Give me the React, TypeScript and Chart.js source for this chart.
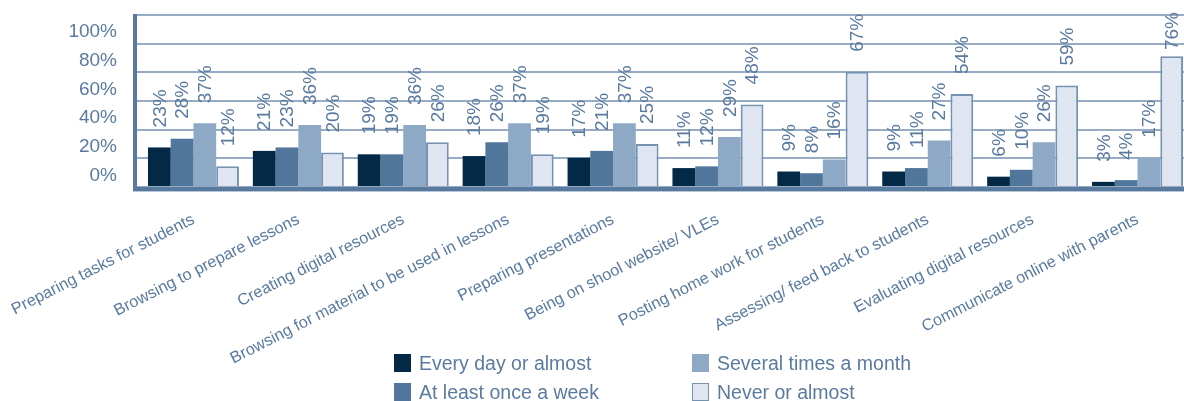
import React, { useEffect, useRef } from "react";
import { Chart, registerables } from "chart.js";

Chart.register(...registerables);

const CATEGORIES = [
  "Preparing tasks for students",
  "Browsing to prepare lessons",
  "Creating digital resources",
  "Browsing for material to be used in lessons",
  "Preparing presentations",
  "Being on shool website/ VLEs",
  "Posting home work for students",
  "Assessing/ feed back to students",
  "Evaluating digital resources",
  "Communicate online with parents",
];

const SERIES_NAMES = [
  "Every day or almost",
  "At least once a week",
  "Several times a month",
  "Never or almost",
];

const EVERY_DAY = [23, 21, 19, 18, 17, 11, 9, 9, 6, 3];
const ONCE_A_WEEK = [28, 23, 19, 26, 21, 12, 8, 11, 10, 4];
const SEVERAL_A_MONTH = [37, 36, 36, 37, 37, 29, 16, 27, 26, 17];
const NEVER = [12, 20, 26, 19, 25, 48, 67, 54, 59, 76];

const Y_TICK_LABELS = ["0%", "20%", "40%", "60%", "80%", "100%"];
const GRID_DIVISIONS = 6;

const SERIES_FILLS = ["#032946", "#50769b", "#8ea9c6", "#dfe6f2"];
const SERIES_BORDERS = ["#032946", "#50769b", "#8ea9c6", "#7592b1"];
const SERIES_BORDER_WIDTHS = [0, 0, 0, 2];

const TEXT_COLOR = "#5a7b9f";
const AXIS_COLOR = "#587a9e";
const GRID_COLOR = "#97abc4";
const FONT_FAMILY = "'Liberation Sans', Arial, sans-serif";

const CANVAS_W = 1190;
const CANVAS_H = 401;

const axisAndLabelsPlugin = {
  id: "axisAndLabels",
  afterDatasetsDraw(chart: any) {
    const { ctx, chartArea } = chart;
    const xAxisLeft = chartArea.left - 6;
    ctx.save();
    // data labels
    ctx.font = `19px ${FONT_FAMILY}`;
    ctx.fillStyle = TEXT_COLOR;
    ctx.textAlign = "left";
    ctx.textBaseline = "middle";
    chart.data.datasets.forEach((ds: any, di: number) => {
      const meta = chart.getDatasetMeta(di);
      meta.data.forEach((el: any, i: number) => {
        const text = `${ds.data[i]}%`;
        const w = ctx.measureText(text).width;
        let yStart = el.y - 20;
        if (yStart - w < 12) yStart = 12 + w;
        ctx.save();
        ctx.translate(el.x, yStart);
        ctx.rotate(-Math.PI / 2);
        ctx.fillText(text, 0, 1);
        ctx.restore();
      });
    });
    // axis lines
    ctx.strokeStyle = AXIS_COLOR;
    ctx.lineWidth = 4;
    ctx.beginPath();
    ctx.moveTo(xAxisLeft, chartArea.top - 1);
    ctx.lineTo(xAxisLeft, chartArea.bottom + 4);
    ctx.stroke();
    ctx.beginPath();
    ctx.moveTo(xAxisLeft - 2, chartArea.bottom + 2);
    ctx.lineTo(chartArea.right, chartArea.bottom + 2);
    ctx.stroke();
    ctx.strokeStyle = "#b7c6d6";
    ctx.lineWidth = 1;
    ctx.beginPath();
    ctx.moveTo(xAxisLeft - 2, chartArea.bottom + 4.5);
    ctx.lineTo(chartArea.right, chartArea.bottom + 4.5);
    ctx.stroke();
    ctx.restore();
  },
};

function Legend() {
  return (
    <div
      style={{
        position: "absolute",
        left: 394,
        top: 354,
        display: "grid",
        gridTemplateColumns: "298px auto",
        gridTemplateRows: "29px 29px",
        gridAutoFlow: "column",
      }}
    >
      {SERIES_NAMES.map((name, i) => (
        <div
          key={name}
          style={{ display: "flex", alignItems: "center", height: 18 }}
        >
          <span
            style={{
              display: "inline-block",
              width: 17,
              height: 18,
              boxSizing: "border-box",
              background: SERIES_FILLS[i],
              border: SERIES_BORDER_WIDTHS[i]
                ? `1.5px solid ${SERIES_BORDERS[i]}`
                : "none",
              marginRight: 8,
            }}
          />
          <span
            style={{
              font: `19.5px ${FONT_FAMILY}`,
              lineHeight: "18px",
              color: TEXT_COLOR,
              whiteSpace: "nowrap",
            }}
          >
            {name}
          </span>
        </div>
      ))}
    </div>
  );
}

export default function App() {
  const canvasRef = useRef<HTMLCanvasElement | null>(null);

  useEffect(() => {
    if (!canvasRef.current) return;
    const seriesData = [EVERY_DAY, ONCE_A_WEEK, SEVERAL_A_MONTH, NEVER];
    const chart = new Chart(canvasRef.current, {
      type: "bar",
      data: {
        labels: CATEGORIES,
        datasets: SERIES_NAMES.map((name, i) => ({
          label: name,
          data: seriesData[i],
          backgroundColor: SERIES_FILLS[i],
          borderColor: SERIES_BORDERS[i],
          borderWidth: SERIES_BORDER_WIDTHS[i],
          borderSkipped: "bottom",
          categoryPercentage: 0.8675,
          barPercentage: 1,
        })),
      },
      options: {
        responsive: false,
        animation: false,
        layout: { padding: { top: 15, left: 0, right: 0, bottom: 0 } },
        plugins: {
          legend: { display: false },
          tooltip: { enabled: false },
        },
        scales: {
          x: {
            grid: { display: false, drawTicks: false },
            border: { display: false },
            ticks: {
              autoSkip: false,
              maxRotation: 27,
              minRotation: 27,
              padding: 23,
              color: TEXT_COLOR,
              font: { family: FONT_FAMILY, size: 16.3 },
            },
            afterFit: (s: any) => {
              s.height = CANVAS_H - 187;
              s.paddingLeft = 0;
              s.paddingRight = 0;
              s.paddingTop = 0;
              s.paddingBottom = 0;
            },
          },
          y: {
            min: 0,
            max: 100,
            afterBuildTicks: (s: any) => {
              const t = [];
              for (let k = 0; k <= GRID_DIVISIONS; k++) {
                t.push({ value: (k * 100) / GRID_DIVISIONS });
              }
              s.ticks = t;
            },
            afterFit: (s: any) => {
              s.width = 141;
              s.paddingLeft = 0;
              s.paddingRight = 0;
              s.paddingTop = 0;
              s.paddingBottom = 0;
            },
            grid: {
              color: GRID_COLOR,
              lineWidth: 2,
              drawTicks: true,
              tickLength: 6,
            },
            border: { display: false },
            ticks: {
              padding: 18,
              labelOffset: 17,
              color: TEXT_COLOR,
              font: { family: FONT_FAMILY, size: 19 },
              callback: (_v: any, index: number) =>
                index === 0 ? "" : Y_TICK_LABELS[index - 1],
            },
          },
        },
      },
      plugins: [axisAndLabelsPlugin],
    });
    return () => chart.destroy();
  }, []);

  return (
    <div
      style={{
        position: "fixed",
        left: 0,
        top: 0,
        width: 1184,
        height: 401,
        overflow: "hidden",
        background: "#ffffff",
      }}
    >
      <canvas
        ref={canvasRef}
        width={CANVAS_W}
        height={CANVAS_H}
        style={{ width: CANVAS_W, height: CANVAS_H, display: "block" }}
      />
      <Legend />
    </div>
  );
}
